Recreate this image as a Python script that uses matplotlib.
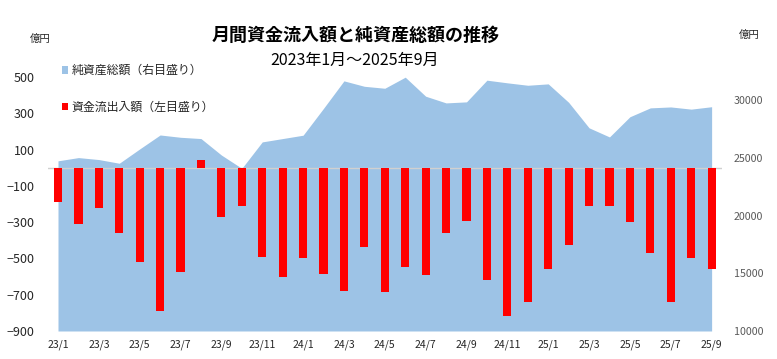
import numpy as np
import matplotlib
matplotlib.use("Agg")
import matplotlib.pyplot as plt

plt.rcParams['font.family'] = ['Noto Sans CJK JP', 'DejaVu Sans']

# 月次ラベル 2023/1 ～ 2025/9
months = ['23/1', '23/2', '23/3', '23/4', '23/5', '23/6', '23/7', '23/8', '23/9', '23/10',
          '23/11', '23/12', '24/1', '24/2', '24/3', '24/4', '24/5', '24/6', '24/7', '24/8',
          '24/9', '24/10', '24/11', '24/12', '25/1', '25/2', '25/3', '25/4', '25/5', '25/6',
          '25/7', '25/8', '25/9']

# 資金流出入額（億円、左目盛り）
flows = [-190, -310, -220, -360, -520, -790, -575, 45, -270, -210,
         -490, -600, -500, -585, -680, -435, -685, -545, -590, -360,
         -295, -620, -820, -740, -560, -425, -210, -210, -300, -470,
         -740, -500, -560]

# 純資産総額（億円、右目盛り）
assets = [24750, 25030, 24860, 24540, 25780, 26990, 26790, 26680, 25250, 24100,
          26390, 26680, 26970, 29300, 31680, 31210, 31040, 32000, 30350, 29770,
          29860, 31740, 31510, 31300, 31420, 29820, 27610, 26820, 28570, 29340,
          29420, 29230, 29440]

x = np.arange(len(months))

fig = plt.figure(figsize=(7.77, 3.59), dpi=100)
ax = fig.add_axes([0.0615, 0.078, 0.8675, 0.707])
ax2 = ax.twinx()

# 面グラフ（右目盛り）は棒の後ろに
ax2.fill_between(x, assets, 10000, color='#9DC3E6', linewidth=0,
                 label='純資産総額（右目盛り）')
ax2.set_ylim(10000, 32000)
ax2.set_yticks([10000, 15000, 20000, 25000, 30000])
ax2.tick_params(axis='y', length=0, pad=8.6, labelsize=7.7, labelcolor='#595959')

ax.set_zorder(ax2.get_zorder() + 1)
ax.patch.set_visible(False)

ax.bar(x, flows, width=0.4, color='#FF0000', zorder=3, label='資金流出入額（左目盛り）')
ax.axhline(0, color='#D0D0D0', linewidth=1, zorder=2)
ax.set_ylim(-900, 500)
ax.set_yticks(np.arange(-900, 501, 200))
ax.tick_params(axis='y', length=0, pad=9.4, labelsize=9, labelcolor='#262626')
ax.set_xlim(-0.5, len(months) - 0.5)
ax.set_xticks(x[::2])
ax.set_xticklabels(months[::2])
ax.tick_params(axis='x', length=0, pad=6.3, labelsize=7.5, labelcolor='#262626')

for a in (ax, ax2):
    for s in a.spines.values():
        s.set_visible(False)

fig.text(0.458, 0.902, '月間資金流入額と純資産総額の推移', ha='center', va='center',
         fontsize=13, fontweight='bold', color='black')
fig.text(0.457, 0.833, '2023年1月～2025年9月', ha='center', va='center',
         fontsize=11.5, color='black')
fig.text(0.052, 0.891, '億円', ha='center', va='center', fontsize=7.5, color='#262626')
fig.text(0.964, 0.902, '億円', ha='center', va='center', fontsize=7.5, color='#262626')

h2, l2 = ax2.get_legend_handles_labels()
h1, l1 = ax.get_legend_handles_labels()
fig.legend(h2 + h1, l2 + l1, loc='upper left', bbox_to_anchor=(0.072, 0.838),
           frameon=False, fontsize=8.6, handlelength=0.55, handleheight=0.55,
           handletextpad=0.25, labelspacing=2.0, labelcolor='#262626', borderpad=0)

fig.savefig('out.png', dpi=100)
